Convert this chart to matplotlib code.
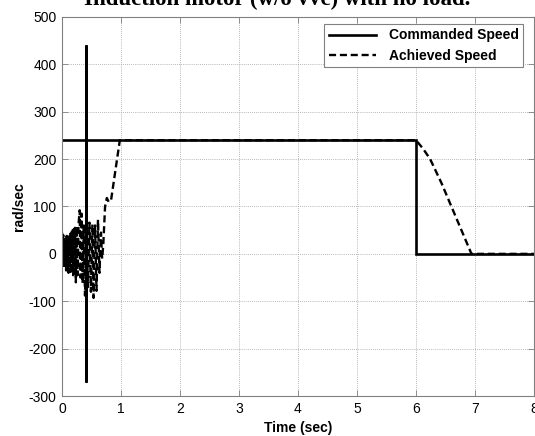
import matplotlib
matplotlib.use("Agg")
import matplotlib.pyplot as plt

# Commanded speed: step to 240 rad/s, a switching spike near 0.4 s, stop at 6 s
cmd_t = [0.0, 0.40, 0.40, 0.40, 0.40, 6.0, 6.0, 8.0]
cmd_v = [240, 240, 440, -270, 240, 240, 0, 0]

# Achieved speed: start-up oscillation, run-up, steady state, then run-down
ach_t = [0.000, 0.010, 0.020, 0.030, 0.040, 0.050, 0.060, 0.070, 0.080, 0.090,
         0.100, 0.110, 0.120, 0.130, 0.140, 0.150, 0.160, 0.170, 0.180, 0.190,
         0.200, 0.210, 0.220, 0.235, 0.250, 0.265, 0.280, 0.300, 0.315, 0.330,
         0.350, 0.370, 0.390, 0.415, 0.440, 0.465, 0.490, 0.515, 0.535, 0.560,
         0.585, 0.610, 0.635, 0.660, 0.680, 0.700, 0.730, 0.760, 0.790, 0.830,
         0.980, 6.000, 6.120, 6.240, 6.430, 6.600, 6.770, 6.940, 8.000]
ach_v = [45, -20, 40, -25, 35, -30, 30, -35, 38, -30,
         35, -40, 40, -38, 45, -42, 48, -35, 50, -45,
         52, -40, 55, -60, 58, -45, 62, 92, -50, 85,
         -62, 60, -88, 55, -70, 66, -80, 62, -93, 60,
         -78, 72, -40, 45, -10, 20, 100, 118, 110, 112,
         240, 240, 222, 200, 150, 100, 50, 0, 0]

x_ticks = [0, 1, 2, 3, 4, 5, 6, 7, 8]
y_ticks = [-300, -200, -100, 0, 100, 200, 300, 400, 500]

plt.rcParams["font.family"] = ["Liberation Sans", "DejaVu Sans"]
plt.rcParams["axes.unicode_minus"] = False

FS = 10

fig = plt.figure(figsize=(5.35, 4.36), dpi=100)
ax = fig.add_axes([62 / 535, 40 / 436, 472 / 535, 379 / 436])

ax.plot(cmd_t, cmd_v, color="black", lw=1.9, ls="-", label="Commanded Speed",
        solid_joinstyle="miter")
ax.plot(ach_t, ach_v, color="black", lw=1.7, ls=(0, (3.0, 1.6)), label="Achieved Speed")

ax.set_xlim(0, 8)
ax.set_ylim(-300, 500)
ax.set_xticks(x_ticks)
ax.set_yticks(y_ticks)
ax.tick_params(direction="in", top=True, right=True, length=4, width=0.6,
               color="#808080", labelsize=FS, pad=4)
for s in ax.spines.values():
    s.set_color("#808080")
    s.set_linewidth(0.8)
ax.grid(True, color="#a0a0a0", ls=(0, (1, 1.5)), lw=0.6)

ax.set_xlabel("Time (sec)", fontsize=FS, fontweight="bold", labelpad=4)
ax.set_ylabel("rad/sec", fontsize=FS, fontweight="bold", labelpad=2)

leg = ax.legend(loc="upper right", prop={"weight": "bold", "size": FS},
                fancybox=False, framealpha=1, edgecolor="#808080",
                handlelength=3.4, handletextpad=0.9, borderpad=0.32,
                labelspacing=0.45, borderaxespad=0,
                bbox_to_anchor=(0.9767, 0.9815))
leg.get_frame().set_linewidth(0.8)

fig.text(0.518, 1 - 5 / 436, "Induction motor (w/o vvc) with no load.",
         ha="center", va="baseline", fontsize=16.5, fontweight="bold",
         family=["Liberation Serif", "DejaVu Serif"])

fig.savefig("out.png", dpi=100)
